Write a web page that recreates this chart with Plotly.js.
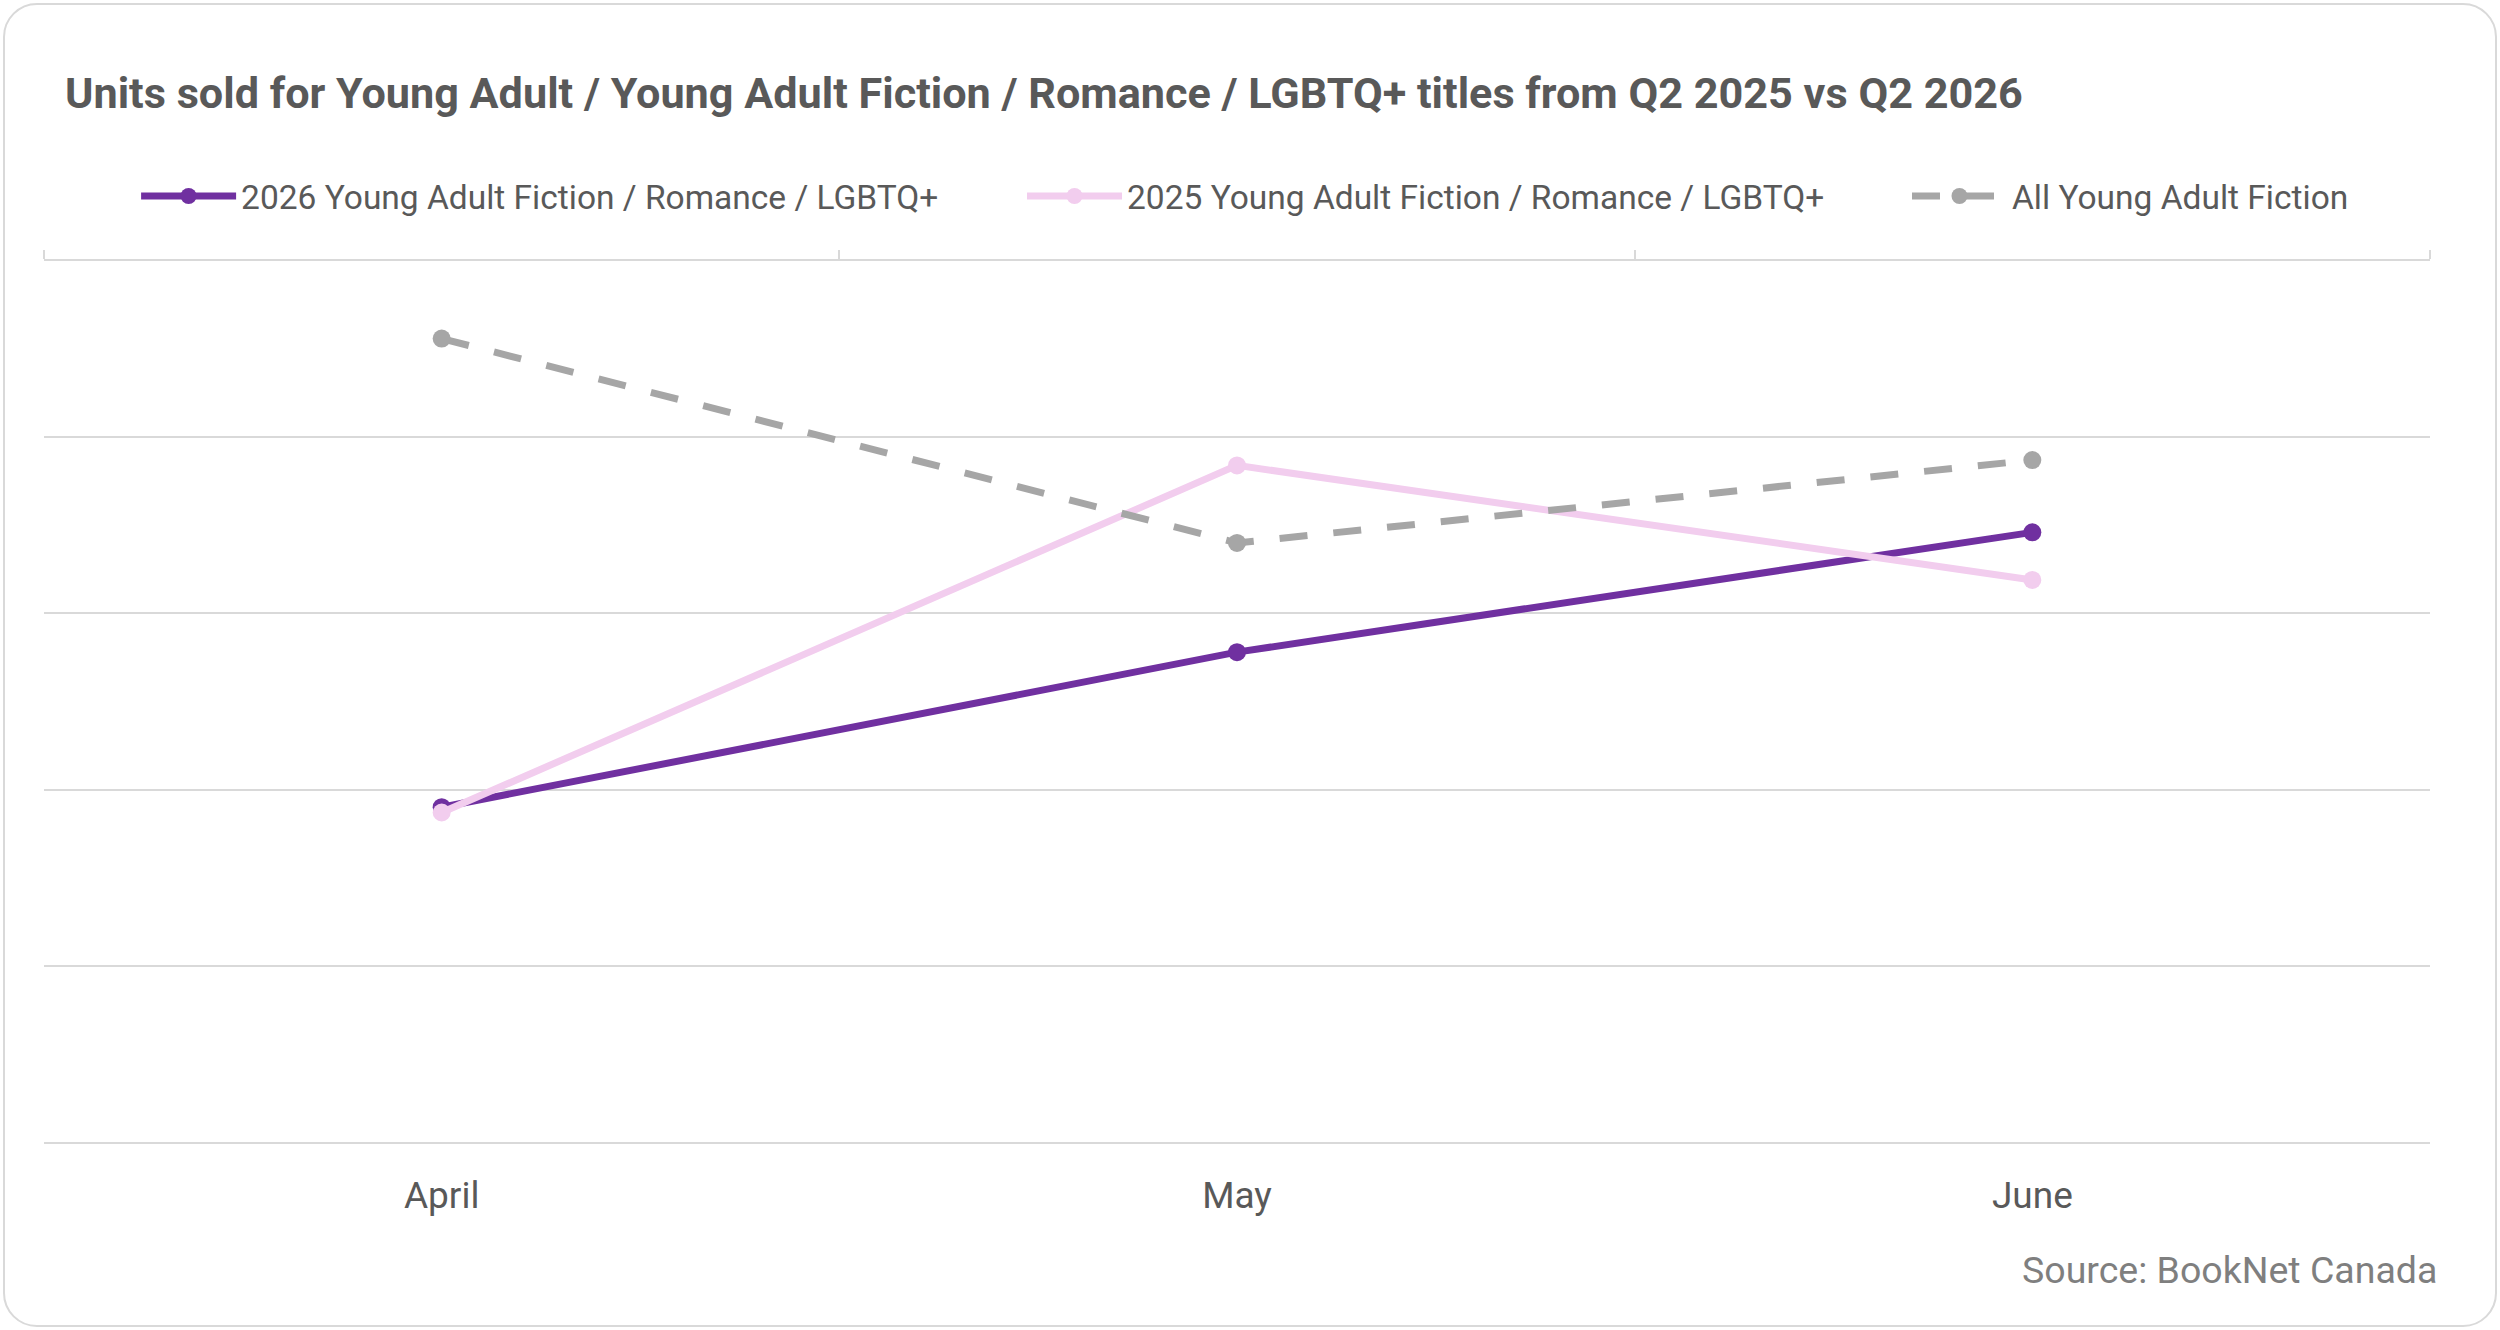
<!DOCTYPE html>
<html>
<head>
<meta charset="utf-8">
<script src="https://cdn.plot.ly/plotly-3.0.1.min.js"></script>
<style>
  body { margin: 0; background: #ffffff; }
  #myDiv { width: 2500px; height: 1330px; }
  #card {
    position: absolute; left: 3px; top: 3px; width: 2490px; height: 1320px;
    border: 2px solid #d9d9d9; border-radius: 34px; pointer-events: none;
  }
</style>
</head>
<body>
<div id="myDiv"></div>
<div id="card"></div>
<script>
// months and units sold (no value axis labels in the source chart, read in gridline units)
var months = ["April", "May", "June"];
var ya2026 = [1.90, 2.78, 3.46];
var ya2025 = [1.87, 3.84, 3.19];
var allYA = [4.56, 3.40, 3.87];

var names = [
  "2026 Young Adult Fiction / Romance / LGBTQ+",
  "2025 Young Adult Fiction / Romance / LGBTQ+",
  "All Young Adult Fiction"
];

var data = [
  {
    type: "scatter", mode: "lines+markers",
    x: months, y: ya2026, name: names[0], legend: "legend",
    line: { color: "#7030a0", width: 7 },
    marker: { color: "#7030a0", size: 18 }
  },
  {
    type: "scatter", mode: "lines+markers",
    x: months, y: ya2025, name: names[1], legend: "legend2",
    line: { color: "#f2cdee", width: 7 },
    marker: { color: "#f2cdee", size: 18 }
  },
  {
    type: "scatter", mode: "lines+markers",
    x: months, y: allYA, name: names[2], legend: "legend3",
    line: { color: "#a6a6a6", width: 7, dash: "28px,26px" },
    marker: { color: "#a6a6a6", size: 18 }
  },
  // invisible copy, only so the top category axis (with boundary ticks) gets drawn
  {
    type: "scatter", mode: "lines",
    x: months, y: allYA, xaxis: "x2",
    opacity: 0, hoverinfo: "skip", showlegend: false
  }
];

function legendAt(xpos) {
  return {
    orientation: "h",
    x: xpos, xanchor: "left",
    y: 1.0735, yanchor: "middle",
    xref: "paper",
    bgcolor: "rgba(0,0,0,0)",
    font: { family: "Roboto", size: 33.5, color: "#595959" },
    itemwidth: 95
  };
}

var layout = {
  width: 2500,
  height: 1330,
  margin: { l: 44, r: 70, t: 261, b: 188 },
  paper_bgcolor: "white",
  plot_bgcolor: "white",
  font: { family: "Roboto", color: "#595959" },
  showlegend: true,
  title: {
    text: "<b>Units sold for Young Adult / Young Adult Fiction / Romance / LGBTQ+ titles from Q2 2025 vs Q2 2026</b>",
    font: { family: "Roboto", size: 43.2, color: "#595959" },
    xref: "container", yref: "container",
    x: 0.026, xanchor: "left",
    y: 0.930, yanchor: "middle"
  },
  legend: legendAt(0.0386),
  legend2: legendAt(0.4099),
  legend3: legendAt(0.7808),
  xaxis: {
    type: "category",
    range: [-0.5, 2.5],
    showgrid: false,
    showline: true, linecolor: "#d9d9d9", linewidth: 2,
    ticks: "",
    tickfont: { family: "Roboto", size: 37, color: "#595959" },
    ticklabelstandoff: 20,
    fixedrange: true
  },
  xaxis2: {
    type: "category",
    overlaying: "x",
    side: "top",
    range: [-0.5, 2.5],
    tickson: "boundaries",
    showticklabels: false,
    showgrid: false,
    showline: true, linecolor: "#d9d9d9", linewidth: 2,
    ticks: "outside", ticklen: 9, tickwidth: 2, tickcolor: "#d9d9d9"
  },
  yaxis: {
    range: [0, 5],
    dtick: 1,
    showticklabels: false,
    showgrid: true, gridcolor: "#d9d9d9", gridwidth: 2,
    zeroline: false,
    ticks: ""
  },
  annotations: [
    {
      text: "Source: BookNet Canada",
      xref: "paper", yref: "paper",
      x: 1.0038, xanchor: "right",
      y: -0.1453, yanchor: "middle",
      showarrow: false,
      font: { family: "Roboto", size: 37.5, color: "#7f7f7f" }
    }
  ]
};

Plotly.newPlot("myDiv", data, layout, { displayModeBar: false });
</script>
</body>
</html>
